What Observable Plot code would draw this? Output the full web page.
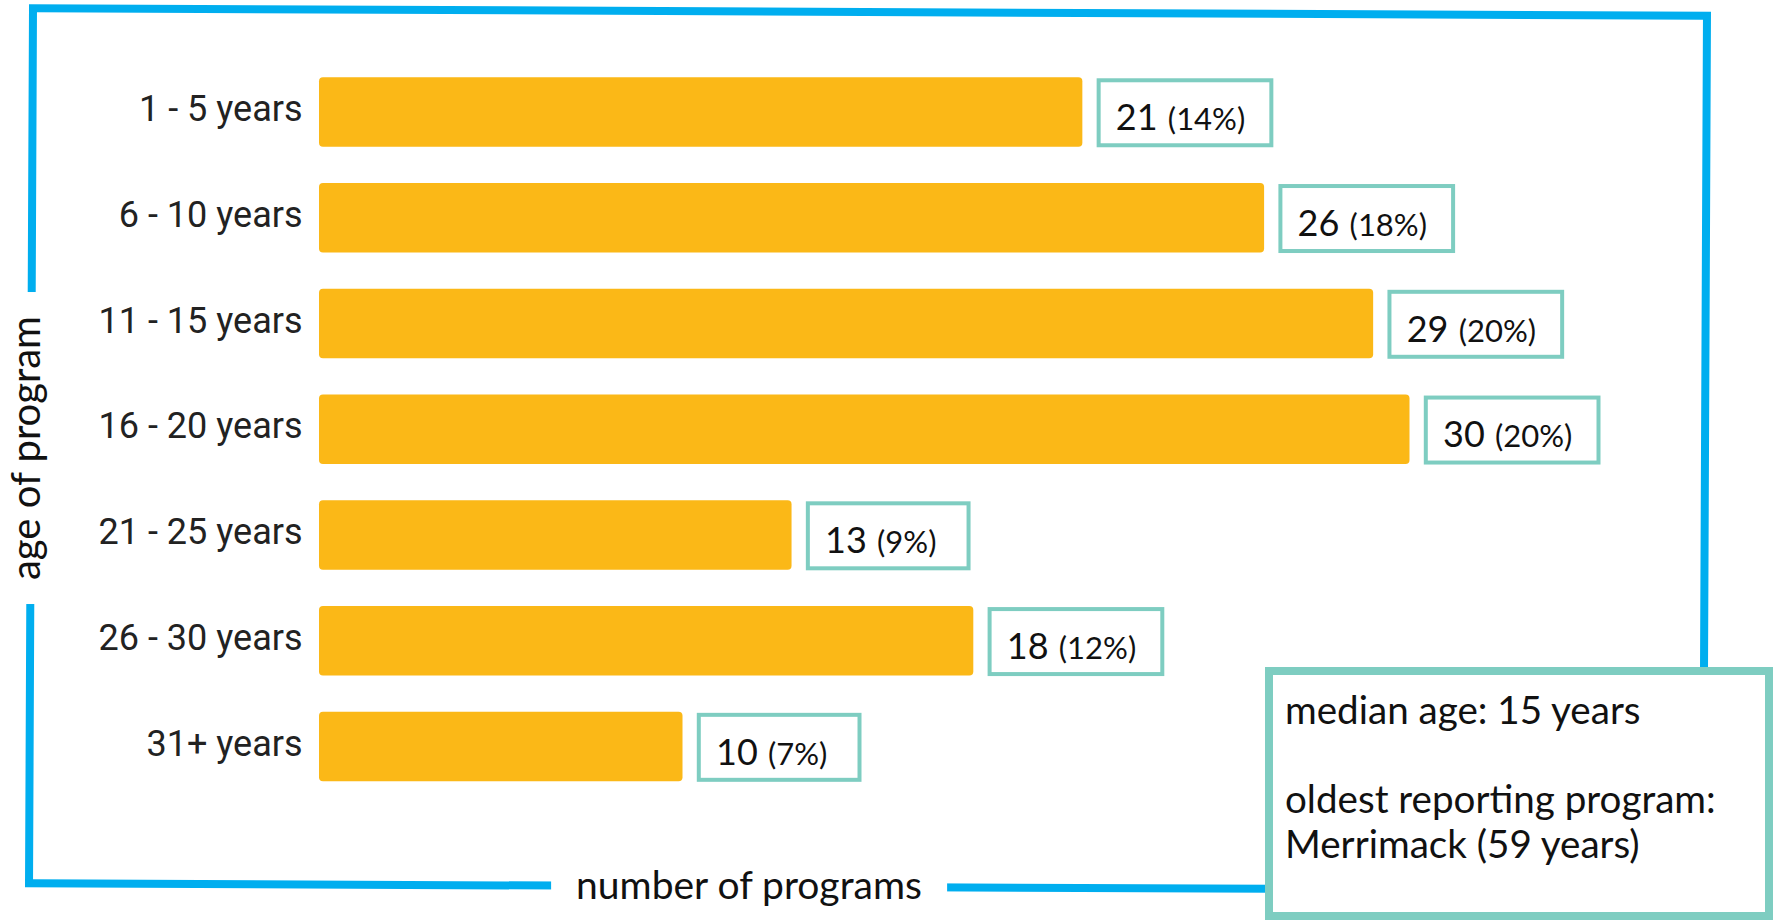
<!DOCTYPE html>
<html>
<head>
<meta charset="utf-8">
<script src="https://cdn.jsdelivr.net/npm/d3@7"></script>
<script src="https://cdn.jsdelivr.net/npm/@observablehq/plot@0.6"></script>
<style>
  html, body { margin: 0; padding: 0; background: #fff; }
  #wrap { position: relative; width: 1773px; height: 920px; overflow: hidden; background: #fff; }
  #frame { position: absolute; left: 27px; top: 8px; width: 1682px; height: 883px; box-sizing: border-box;
           border: 8px solid #00AEEF; transform: rotate(0.26deg); }
  #chart { position: absolute; left: 0; top: 0; }
  .axt { position: absolute; background: #fff; font-family: Lato, sans-serif; color: #111;
         white-space: nowrap; line-height: 40px; }
  #xt { left: 749px; top: 884px; font-size: 39px; transform: translate(-50%, -50%); padding: 0 25px; }
  #yt { left: 25px; top: 448px; font-size: 40px; transform: translate(-50%, -50%) rotate(-90deg); padding: 0 24px; }
  #note { position: absolute; left: 1265px; top: 667px; width: 508px; height: 253px; box-sizing: border-box;
          border: 8px solid #7ECDC1; background: #fff; font-family: Lato, sans-serif; font-size: 38.6px;
          line-height: 44.5px; color: #111; padding: 12px 0 0 12px; white-space: nowrap; }
</style>
</head>
<body>
<div id="wrap">
  <div id="frame"></div>
  <div id="chart"></div>
  <div class="axt" id="xt">number of programs</div>
  <div class="axt" id="yt">age of program</div>
  <div id="note">median age: 15 years<br><br>oldest reporting program:<br>Merrimack (59 years)</div>
</div>
<script>
const categories = ["1 - 5 years", "6 - 10 years", "11 - 15 years", "16 - 20 years", "21 - 25 years", "26 - 30 years", "31+ years"];
const counts = [21, 26, 29, 30, 13, 18, 10];
const percents = [14, 18, 20, 20, 9, 12, 7];

const data = categories.map((c, i) => ({category: c, count: counts[i], pct: percents[i]}));

const boxStyle = {fill: "white", stroke: "#7ECDC1", strokeWidth: 4, insetTop: 3, insetBottom: 1.5};

const chart = Plot.plot({
  width: 1773,
  height: 920,
  marginLeft: 319,
  marginRight: 363.5,
  marginTop: 41,
  marginBottom: 102.4,
  style: {background: "transparent", overflow: "visible"},
  x: {domain: [0, 30], axis: null},
  y: {domain: categories, padding: 0.343, round: false},
  marks: [
    Plot.barX(data, {x: "count", y: "category", fill: "#FBB817", rx: 4}),
    Plot.barX(data, {filter: d => d.pct >= 10, x1: "count", x2: "count", y: "category",
      insetLeft: 16.3, insetRight: -189, ...boxStyle}),
    Plot.barX(data, {filter: d => d.pct < 10, x1: "count", x2: "count", y: "category",
      insetLeft: 16.3, insetRight: -177, ...boxStyle}),
    Plot.text(data, {x: "count", y: "category", text: d => String(d.count), dx: 33, dy: 17.5,
      textAnchor: "start", lineAnchor: "bottom", fontFamily: "Lato", fontSize: 36, fill: "#111"}),
    Plot.text(data, {x: "count", y: "category", text: d => `(${d.pct}%)`, dx: 85, dy: 17.5,
      textAnchor: "start", lineAnchor: "bottom", fontFamily: "Lato", fontSize: 31, fill: "#111"}),
    Plot.axisY({tickSize: 0, tickPadding: 17, fontSize: 36, fontFamily: "Roboto", fill: "#222", dy: -3, label: null})
  ]
});
document.getElementById("chart").appendChild(chart);
</script>
</body>
</html>
